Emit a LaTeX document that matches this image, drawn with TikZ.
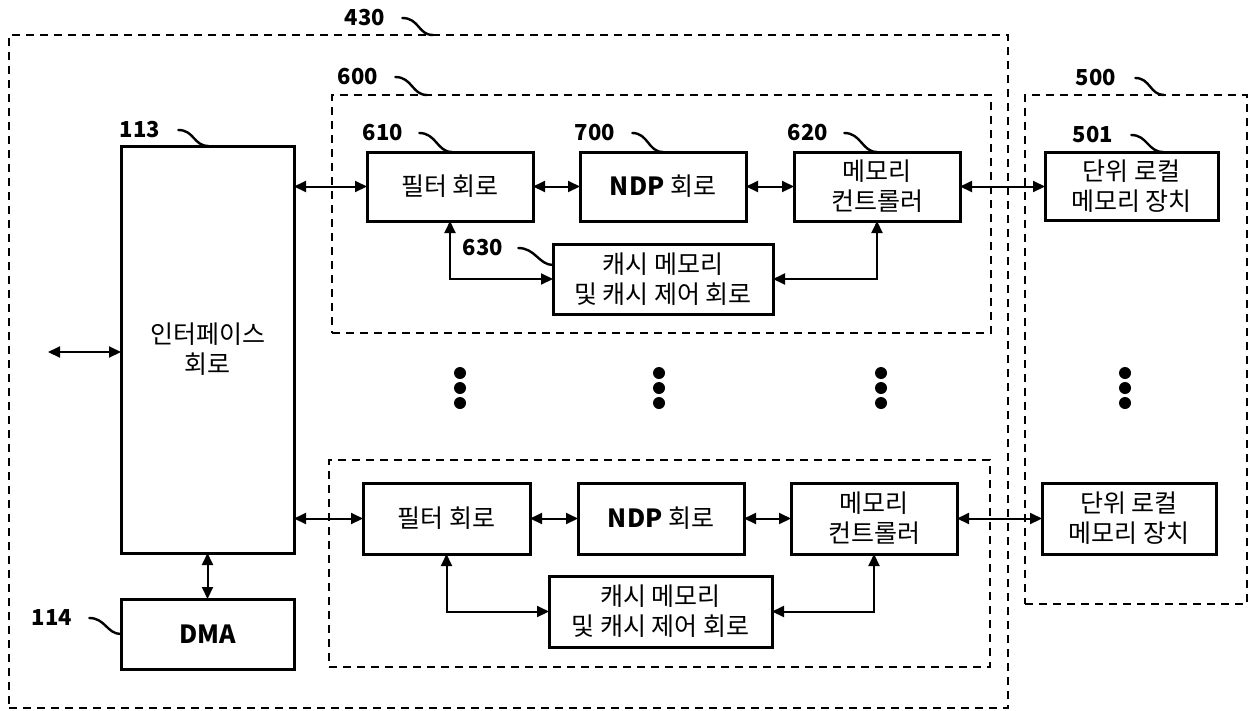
\documentclass[tikz,border=0pt]{standalone}
\usepackage{fontspec}
\setmainfont{Noto Sans CJK KR}
\usetikzlibrary{arrows.meta}
\newcommand\kfnt{\fontsize{25}{30}\selectfont}
\newcommand\nfnt{\fontsize{22}{26}\selectfont\bfseries}
\begin{document}
\begin{tikzpicture}[x=1pt,y=-1pt,
  box/.style={draw, line width=3pt, inner sep=0pt, outer sep=0pt, align=center, font=\kfnt},
  dbox/.style={draw, line width=1.7pt, dash pattern=on 8pt off 6pt, inner sep=0pt, outer sep=0pt},
  conn/.style={line width=2pt, {Triangle[length=12pt,width=11pt]}-{Triangle[length=12pt,width=11pt]}},
  lbl/.style={inner sep=0pt, font=\nfnt},
  leader/.style={line width=2.4pt, line cap=round},
  dotmark/.style={circle, fill, inner sep=0pt, minimum size=12pt}
]
\useasboundingbox (0,0) rectangle (1249,710);

% dashed groups
\node[dbox, minimum width=999pt, minimum height=673pt] (g430) at (508.5,371.5) {};
\node[dbox, minimum width=659pt, minimum height=238pt] (g600a) at (661.5,214) {};
\node[dbox, minimum width=661pt, minimum height=207pt] (g600b) at (659.5,563.5) {};
\node[dbox, minimum width=222pt, minimum height=509pt] (g500) at (1136,349.5) {};

% left blocks
\node[box, minimum width=173pt, minimum height=407pt] (iface) at (207.5,349.5) {인터페이스\\회로};
\node[box, minimum width=173pt, minimum height=70pt] (dma) at (207.5,634) {\textbf{DMA}};

% top row
\node[box, minimum width=166pt, minimum height=69pt] (filter1) at (450,186.5) {필터 회로};
\node[box, minimum width=166pt, minimum height=69pt] (ndp1) at (663,186.5) {\textbf{NDP} 회로};
\node[box, minimum width=166pt, minimum height=69pt] (ctrl1) at (877,186.5) {메모리\\컨트롤러};
\node[box, minimum width=220pt, minimum height=70pt] (cache1) at (663,279) {캐시 메모리\\및 캐시 제어 회로};
\node[box, minimum width=173pt, minimum height=68pt] (unit1) at (1131.5,186) {단위 로컬\\메모리 장치};

% bottom row
\node[box, minimum width=167pt, minimum height=71pt] (filter2) at (446.5,518.5) {필터 회로};
\node[box, minimum width=166pt, minimum height=71pt] (ndp2) at (661,518.5) {\textbf{NDP} 회로};
\node[box, minimum width=166pt, minimum height=71pt] (ctrl2) at (874,518.5) {메모리\\컨트롤러};
\node[box, minimum width=223pt, minimum height=71pt] (cache2) at (660.5,611.5) {캐시 메모리\\및 캐시 제어 회로};
\node[box, minimum width=174pt, minimum height=71pt] (unit2) at (1129,518.5) {단위 로컬\\메모리 장치};

% connectors
\coordinate (ext) at (48,352);
\draw[conn] (ext) -- (iface.west |- ext);
\draw[conn] (iface.south) -- (dma.north);
\draw[conn] (iface.east |- filter1.west) -- (filter1.west);
\draw[conn] (filter1.east) -- (ndp1.west);
\draw[conn] (ndp1.east) -- (ctrl1.west);
\draw[conn] (ctrl1.east) -- (unit1.west |- ctrl1.east);
\draw[conn] (filter1.south) |- (cache1.west);
\draw[conn] (ctrl1.south) |- (cache1.east);
\draw[conn] (iface.east |- filter2.west) -- (filter2.west);
\draw[conn] (filter2.east) -- (ndp2.west);
\draw[conn] (ndp2.east) -- (ctrl2.west);
\draw[conn] (ctrl2.east) -- (unit2.west);
\draw[conn] (filter2.south) |- (cache2.west);
\draw[conn] (ctrl2.south) |- (cache2.east);

% ellipsis dots
\foreach \cx [count=\i] in {460,659,881,1125}{
  \node[dotmark] (da\i) at (\cx,373) {};
  \node[dotmark] (db\i) at (\cx,388) {};
  \node[dotmark] (dc\i) at (\cx,403) {};
}

% reference labels
\node[lbl] (l430) at (365,18) {430};
\node[lbl] (l600) at (358,77) {600};
\node[lbl] (l113) at (140,130) {113};
\node[lbl] (l610) at (383,133) {610};
\node[lbl] (l700) at (595,133) {700};
\node[lbl] (l620) at (808,133) {620};
\node[lbl] (l630) at (483,248) {630};
\node[lbl] (l500) at (1096,78) {500};
\node[lbl] (l501) at (1093,135) {501};
\node[lbl] (l114) at (52,618) {114};

\draw[leader] ([xshift=17pt]l430.east) .. controls +(17,0) and +(-15,0) .. (g430.north west -| 433,0);
\draw[leader] ([xshift=17pt]l600.east) .. controls +(17,0) and +(-15,0) .. (g600a.north west -| 427,0);
\draw[leader] ([xshift=18pt]l113.east) .. controls +(16,0) and +(-15,0) .. ([xshift=1pt]iface.north);
\draw[leader] ([xshift=16pt]l610.east) .. controls +(17,0) and +(-15,0) .. ([xshift=2pt]filter1.north);
\draw[leader] ([xshift=17pt]l700.east) .. controls +(16,0) and +(-15,0) .. (ndp1.north);
\draw[leader] ([xshift=16pt]l620.east) .. controls +(17,0) and +(-15,0) .. (ctrl1.north);
\draw[leader] ([xshift=15pt]l630.east) .. controls +(17,0) and +(-14,0) .. ([yshift=-21pt]cache1.north west);
\draw[leader] ([xshift=19pt]l500.east) .. controls +(15,0) and +(-14,0) .. (g500.north west -| 1164,0);
\draw[leader] ([xshift=18pt]l501.east) .. controls +(16,0) and +(-15,0) .. (unit1.north -| 1163,0);
\draw[leader] ([xshift=17pt]l114.east) .. controls +(16,0) and +(-14,0) .. (dma.west);
\end{tikzpicture}
\end{document}
